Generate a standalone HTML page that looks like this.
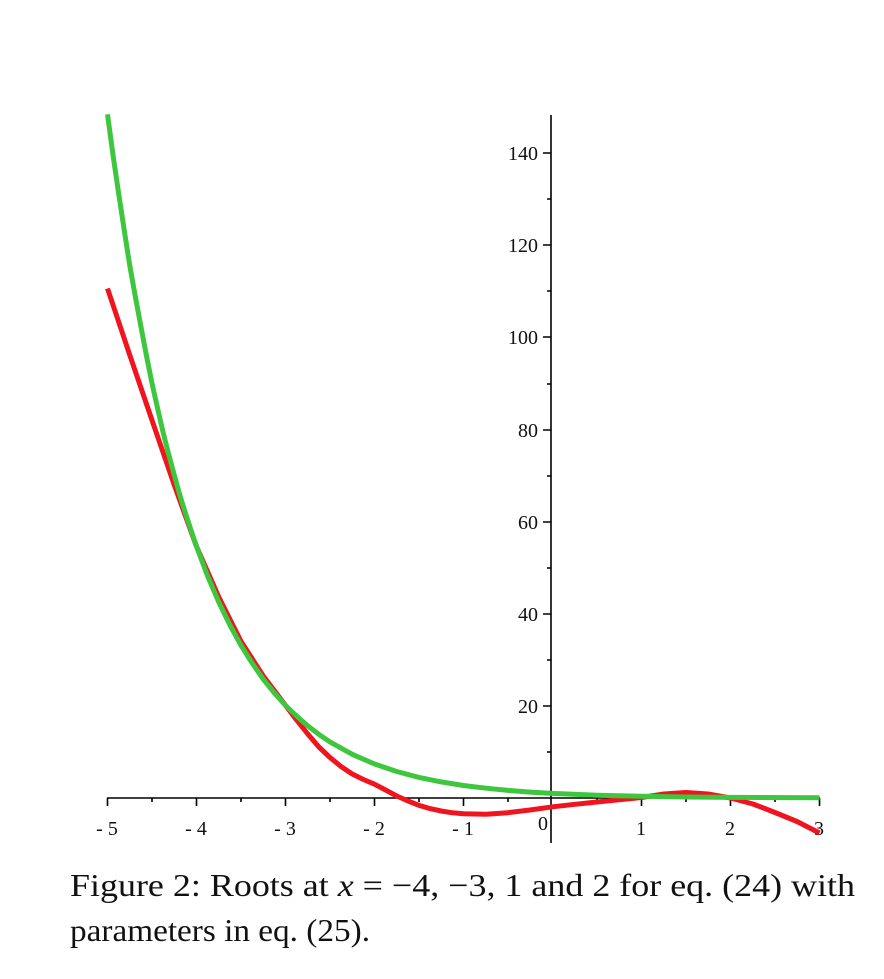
<!DOCTYPE html>
<html><head><meta charset="utf-8"><style>html,body{margin:0;padding:0;background:#fff}</style></head>
<body>
<svg width="884" height="974" viewBox="0 0 884 974" xmlns="http://www.w3.org/2000/svg" font-family="Liberation Serif, serif">
<rect width="884" height="974" fill="#fff"/>
<g stroke="#000" stroke-width="1.6">
<line x1="107" y1="798" x2="820" y2="798"/>
<line x1="551" y1="115" x2="551" y2="843"/>
<path d="M107.5 798v8M196.5 798v8M285.5 798v8M374.5 798v8M463.5 798v8M641.5 798v8M730.5 798v8M819.5 798v8"/>
<path d="M152 798v4M241 798v4M330 798v4M419 798v4M508 798v4M597 798v4M686 798v4M775 798v4"/>
<path d="M543 153h8M543 245h8M543 337h8M543 430h8M543 522h8M543 614h8M543 706h8"/>
<path d="M547 199h4M547 291h4M547 384h4M547 476h4M547 568h4M547 660h4M547 752h4"/>
</g>
<g font-size="20" fill="#111" text-anchor="middle">
<text x="107" y="835">- 5</text>
<text x="196" y="835">- 4</text>
<text x="285" y="835">- 3</text>
<text x="374" y="835">- 2</text>
<text x="463" y="835">- 1</text>
<text x="543" y="830">0</text>
<text x="641" y="835">1</text>
<text x="730" y="835">2</text>
<text x="819" y="835">3</text>
</g>
<g font-size="20" fill="#111" text-anchor="end">
<text x="538" y="160">140</text>
<text x="538" y="252">120</text>
<text x="538" y="344">100</text>
<text x="538" y="437">80</text>
<text x="538" y="529">60</text>
<text x="538" y="621">40</text>
<text x="538" y="713">20</text>
</g>
<polyline fill="none" stroke="#f0141e" stroke-width="5" stroke-linejoin="round"
points="107.5,288.5 129.75,355 152,420.2 174.25,485 196.5,546.5 218.75,597 241,641.4 263.25,676 285.5,705.4 296.6,720 307.75,734 318.9,747 330,757.5 341,766.5 352.25,774 363.4,779.5 374.5,784.2 385.6,790 396.75,796 408,801 419,805.3 430,808.6 441.25,811 452.4,812.8 463.5,813.7 486,814.2 508,812.7 530,810 552.5,806.8 575,804.3 597,802 619,799.8 641.5,797.5 664,794 686,792.5 708,794 730.5,798 753,804 775,812.5 797,821.5 819.5,833"/>
<polyline fill="none" stroke="#3ec73e" stroke-width="5" stroke-linejoin="round"
points="107.5,114.3 113,155 118.6,193 124.2,230 129.75,265.5 135.4,297 141,327 146.5,356 152,383.3 157.5,408 163,432 168.6,454 174.25,475 179.8,495 185.4,513 191,530 196.5,546.5 207.6,576 218.75,602.1 229.9,625 241,645.4 252.1,663 263.25,679.2 274.4,693 285.5,705.4 296.6,716 307.75,725.9 318.9,734.4 330,741.9 352.25,754.3 374.5,764 396.75,771.5 419,777.4 441.25,781.9 463.5,785.5 486,788.2 508,790.4 530,792.1 552.5,793.4 597,795.2 641.5,796.3 686,797 730.5,797.4 819.5,797.8"/>
<g font-size="32" fill="#111">
<text x="70" y="896" textLength="785" lengthAdjust="spacingAndGlyphs">Figure 2: Roots at <tspan font-style="italic">x</tspan> = −4, −3, 1 and 2 for eq. (24) with</text>
<text x="70" y="941" textLength="300" lengthAdjust="spacingAndGlyphs">parameters in eq. (25).</text>
</g>
</svg>
</body></html>
